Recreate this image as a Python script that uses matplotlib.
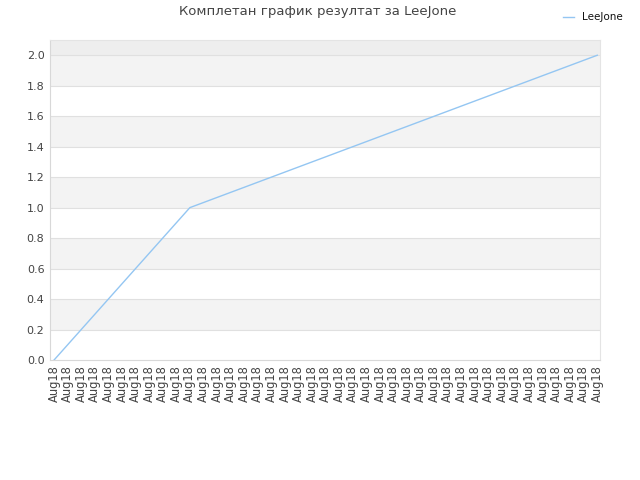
import matplotlib
matplotlib.use("Agg")
import matplotlib.pyplot as plt
from matplotlib.lines import Line2D

title = "Комплетан график резултат за LeeJone"
series_name = "LeeJone"
x_labels = ["Aug18"] * 41
values = [0.0, 0.1, 0.2, 0.3, 0.4, 0.5, 0.6, 0.7, 0.8, 0.9, 1.0,
          1.0333, 1.0667, 1.1, 1.1333, 1.1667, 1.2, 1.2333, 1.2667, 1.3,
          1.3333, 1.3667, 1.4, 1.4333, 1.4667, 1.5, 1.5333, 1.5667, 1.6, 1.6333,
          1.6667, 1.7, 1.7333, 1.7667, 1.8, 1.8333, 1.8667, 1.9, 1.9333, 1.9667, 2.0]
y_ticks = [0.0, 0.2, 0.4, 0.6, 0.8, 1.0, 1.2, 1.4, 1.6, 1.8, 2.0]

plt.rcParams['font.family'] = ['DejaVu Sans']
fig = plt.figure(figsize=(6.4, 4.8), dpi=100)
ax = fig.add_axes([50/640, 1-360/480, 550/640, 320/480])

xs = list(range(len(values)))
ax.set_xlim(-0.3, len(values) - 1 + 0.2)
ax.set_ylim(0, 2.1)

# background bands
for i, y0 in enumerate(y_ticks):
    y1 = min(y0 + 0.2, 2.1)
    if y0 >= 2.0:
        col = '#eeeeee'
    elif i % 2 == 1:
        col = '#f3f3f3'
    else:
        col = '#ffffff'
    ax.axhspan(y0, y1, color=col, zorder=0, lw=0)
for y in y_ticks[1:]:
    ax.axhline(y, color='#e0e0e0', lw=0.8, zorder=1)

ax.plot(xs, values, color='#94c6f2', lw=1.0, zorder=3)

ax.set_yticks(y_ticks)
ax.set_yticklabels([f"{v:.1f}" for v in y_ticks], fontsize=8, color='#444444')
ax.set_xticks(xs)
ax.set_xticklabels(x_labels, rotation=90, fontsize=8.3, color='#444444')
ax.tick_params(axis='both', length=0, pad=4)

for s in ['top', 'right']:
    ax.spines[s].set_color('#e4e4e4')
for s in ['left', 'bottom']:
    ax.spines[s].set_color('#d8d8d8')
for s in ax.spines.values():
    s.set_linewidth(0.8)

fig.text(318/640, 1-12/480, title, ha='center', va='center', fontsize=9.5, color='#444444')

handle = Line2D([0], [0], color='#94c6f2', lw=1.0)
fig.legend([handle], [series_name], loc='upper right', bbox_to_anchor=(632/640, 1-3/480),
           frameon=False, fontsize=7.5, handlelength=1.0, handletextpad=0.8,
           labelcolor='#111111')

fig.savefig("out.png", dpi=100, facecolor='white')
